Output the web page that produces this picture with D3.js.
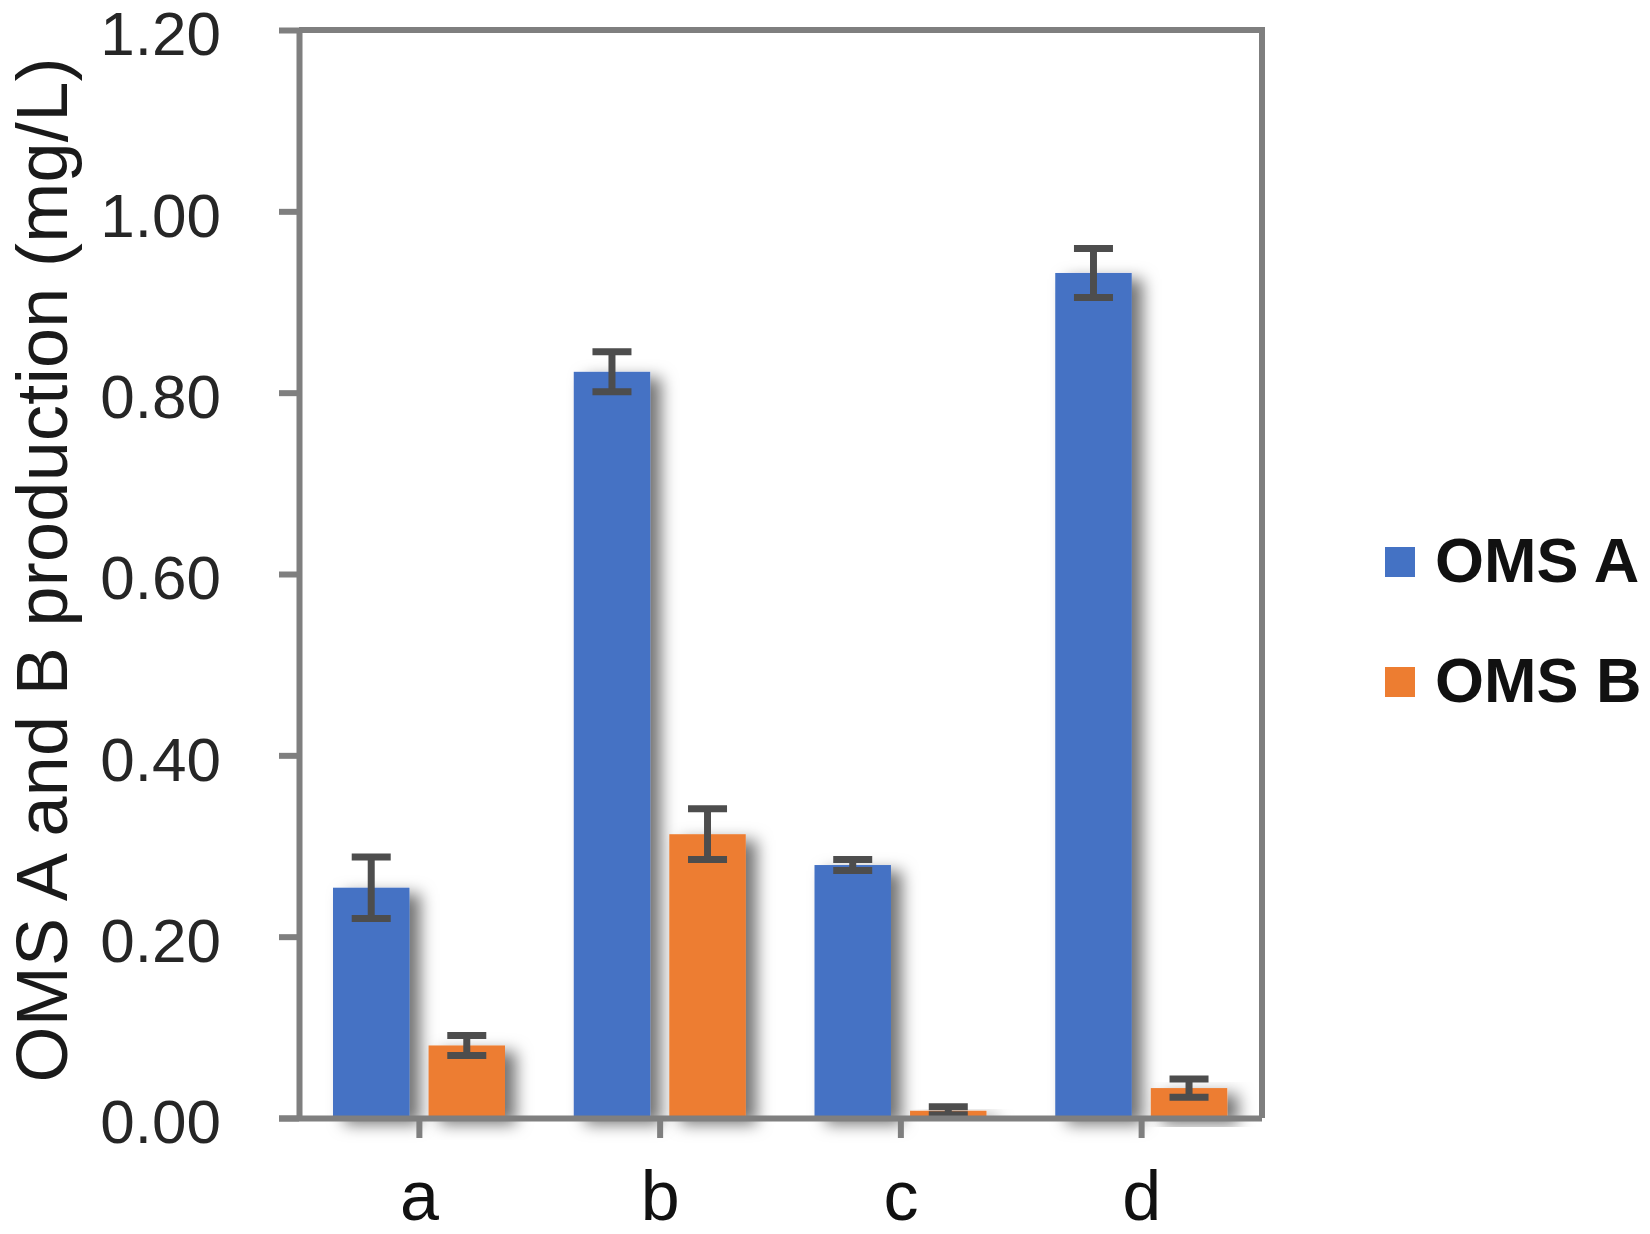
<!DOCTYPE html>
<html>
<head>
<meta charset="utf-8">
<script src="https://cdn.jsdelivr.net/npm/d3@7"></script>
<style>
  body { margin: 0; background: #fff; }
  svg { display: block; font-family: "Liberation Sans", Arial, sans-serif; }
</style>
</head>
<body>
<div id="chart"></div>
<script>
// data
var categories = ['a', 'b', 'c', 'd'];
var seriesNames = ['OMS A', 'OMS B'];
var omsA = [0.254, 0.823, 0.279, 0.932];
var omsAErr = [0.034, 0.022, 0.006, 0.027];
var omsB = [0.080, 0.313, 0.008, 0.033];
var omsBErr = [0.011, 0.028, 0.0045, 0.010];
var yTicks = [0, 0.2, 0.4, 0.6, 0.8, 1.0, 1.2];

var colors = ['#4472C4', '#ED7D31'];
var axisColor = '#7f7f7f';
var errColor = '#4d4d4d';

var width = 1650, height = 1234;
var margin = {top: 30, right: 388, bottom: 116, left: 299};

var rows = [];
categories.forEach(function(c, i) {
    rows.push({cat: c, series: seriesNames[0], v: omsA[i], e: omsAErr[i]});
    rows.push({cat: c, series: seriesNames[1], v: omsB[i], e: omsBErr[i]});
});

var svg = d3.select('#chart')
    .append('svg')
        .attr('width', width)
        .attr('height', height);

// soft shadow like the excel bars
var defs = svg.append('defs');
defs.append('filter')
        .attr('id', 'shadow')
        .attr('x', '-20%').attr('y', '-20%')
        .attr('width', '170%').attr('height', '150%')
    .append('feDropShadow')
        .attr('dx', 11)
        .attr('dy', 6)
        .attr('stdDeviation', 8)
        .attr('flood-color', '#000')
        .attr('flood-opacity', 0.55);

var x0 = d3.scaleBand()
    .domain(categories)
    .range([margin.left, width - margin.right])
    .padding(0);

var x1 = d3.scaleBand()
    .domain(seriesNames)
    .range([34, 206])
    .paddingInner(0.2);

var y = d3.scaleLinear()
    .domain([0, 1.2])
    .range([height - margin.bottom, margin.top]);

var color = d3.scaleOrdinal().domain(seriesNames).range(colors);

// bars
svg.append('g')
    .selectAll('rect')
    .data(rows)
    .enter()
    .append('rect')
        .attr('x', d => x0(d.cat) + x1(d.series))
        .attr('y', d => y(d.v))
        .attr('width', x1.bandwidth())
        .attr('height', d => y(0) - y(d.v))
        .attr('fill', d => color(d.series))
        .attr('filter', 'url(#shadow)');

// error bars
var capW = 39;
var err = svg.append('g')
    .attr('stroke', errColor)
    .attr('stroke-width', 7);

err.selectAll('line.stem')
    .data(rows)
    .enter()
    .append('line')
        .attr('class', 'stem')
        .attr('x1', d => x0(d.cat) + x1(d.series) + x1.bandwidth()/2)
        .attr('x2', d => x0(d.cat) + x1(d.series) + x1.bandwidth()/2)
        .attr('y1', d => y(d.v - d.e))
        .attr('y2', d => y(d.v + d.e));

['lo', 'hi'].forEach(function(k) {
    err.selectAll('line.cap-' + k)
        .data(rows)
        .enter()
        .append('line')
            .attr('class', 'cap-' + k)
            .attr('x1', d => x0(d.cat) + x1(d.series) + x1.bandwidth()/2 - capW/2)
            .attr('x2', d => x0(d.cat) + x1(d.series) + x1.bandwidth()/2 + capW/2)
            .attr('y1', d => y(k === 'hi' ? d.v + d.e : d.v - d.e))
            .attr('y2', d => y(k === 'hi' ? d.v + d.e : d.v - d.e));
});

// plot frame top and right
svg.append('path')
    .attr('d', 'M' + margin.left + ',' + y(1.2) + 'H' + (width - margin.right) + 'V' + y(0))
    .attr('fill', 'none')
    .attr('stroke', axisColor)
    .attr('stroke-width', 6);

// y axis
var yAxis = svg.append('g')
    .attr('transform', 'translate(' + margin.left + ',0)')
    .call(d3.axisLeft(y)
        .tickValues(yTicks)
        .tickFormat(d3.format('.2f'))
        .tickSize(20)
        .tickSizeOuter(0)
        .tickPadding(58));

yAxis.select('.domain').attr('stroke', axisColor).attr('stroke-width', 6);
yAxis.selectAll('.tick line').attr('stroke', axisColor).attr('stroke-width', 6);
yAxis.selectAll('.tick text')
    .attr('fill', '#262626')
    .attr('dy', '0.4em')
    .style('font-size', '62px')
    .style('font-family', '"Liberation Sans", Arial, sans-serif');

// x axis
var xAxis = svg.append('g')
    .attr('transform', 'translate(0,' + y(0) + ')')
    .call(d3.axisBottom(x0)
        .tickSize(20)
        .tickSizeOuter(0));

xAxis.select('.domain')
    .attr('d', 'M' + (margin.left - 20) + ',0.5H' + (width - margin.right))
    .attr('stroke', axisColor)
    .attr('stroke-width', 6);
xAxis.selectAll('.tick line').attr('stroke', axisColor).attr('stroke-width', 6);
xAxis.selectAll('.tick text')
    .attr('y', 102)
    .attr('dy', 0)
    .attr('fill', '#111')
    .style('font-size', '70px')
    .style('font-family', '"Liberation Sans", Arial, sans-serif');

// y title
svg.append('text')
    .attr('transform', 'translate(67,' + (height - margin.bottom - 548) + ') rotate(-90)')
    .attr('text-anchor', 'middle')
    .attr('fill', '#1a1a1a')
    .attr('textLength', 1025)
    .style('font-size', '72px')
    .text('OMS A and B production (mg/L)');

// legend
var legend = svg.append('g')
    .selectAll('g')
    .data(seriesNames)
    .enter()
    .append('g')
        .attr('transform', (d, i) => 'translate(1385,' + (547 + i * 120) + ')');

legend.append('rect')
    .attr('width', 30)
    .attr('height', 30)
    .attr('fill', d => color(d));

legend.append('text')
    .attr('x', 50)
    .attr('y', 35)
    .attr('fill', '#111')
    .style('font-size', '63px')
    .style('font-weight', 'bold')
    .text(d => d);
</script>
</body>
</html>
